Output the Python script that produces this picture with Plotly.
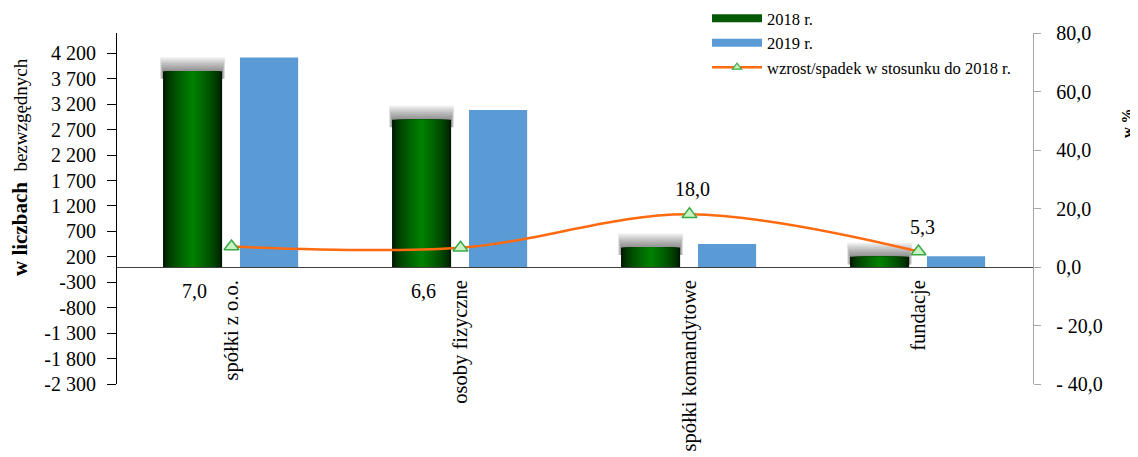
import plotly.graph_objects as go

# ---------------- data ----------------
categories = ["spółki z o.o.", "osoby fizyczne", "spółki komandytowe", "fundacje"]
values_2018 = [3850, 2895, 385, 200]
values_2019 = [4120, 3086, 454, 211]
growth_pct = [7.0, 6.6, 18.0, 5.3]
left_tick_values = [-2300, -1800, -1300, -800, -300, 200, 700, 1200, 1700, 2200, 2700, 3200, 3700, 4200]
right_tick_values = [-40, -20, 0, 20, 40, 60, 80]
series_names = ["2018 r.", "2019 r.", "wzrost/spadek w stosunku do 2018 r."]


def fmt_left(v):
    return f"{v:,}".replace(",", " ")


def fmt_right(v):
    s = f"{abs(v):.1f}".replace(".", ",")
    return ("- " + s) if v < 0 else s


left_tick_text = [fmt_left(v) for v in left_tick_values]
right_tick_text = [fmt_right(v) for v in right_tick_values]
label_text = [f"{v:.1f}".replace(".", ",") for v in growth_pct]

# ---------------- styling ----------------
FONT = "Liberation Serif, Times New Roman, serif"
OFF = 8                      # page (body) offset of the figure in the screenshot
W, H = 1138 - OFF, 457 - OFF
# target plot area in screenshot pixels: x 117..1033, y 33..384
ML, MT = 117 - OFF, 33 - OFF
MR, MB = W - (1033 - OFF), H - (384 - OFF)
PW, PH = W - ML - MR, H - MT - MB
Y_RANGE = [-2300, 4600]
Y2_RANGE = [-40, 80]
UNITS_PER_PX = (Y_RANGE[1] - Y_RANGE[0]) / PH
CAT_PX = PW / len(categories)


def px_x(px):
    return (px - OFF - ML) / PW


def px_y(py):
    return (H - MB - (py - OFF)) / PH


GREEN_OFFSET, GREEN_WIDTH = -0.299, 0.258
BLUE_OFFSET, BLUE_WIDTH = 0.037, 0.254
BLUE = "#5B9BD5"
ORANGE = "#FF6A10"

fig = go.Figure()

# soft shadow above the 2018 bars
for ext in [14, 12, 10, 8, 6, 4, 2]:
    extra_w = (ext / 14 * 3) / CAT_PX
    fig.add_trace(go.Bar(
        x=categories,
        y=[150 + ext * UNITS_PER_PX for _ in values_2018],
        base=[v - 150 for v in values_2018],
        offset=GREEN_OFFSET - extra_w, width=GREEN_WIDTH + 2 * extra_w,
        marker=dict(color="rgba(0,0,0,0.07)", line=dict(width=0)),
        showlegend=False, hoverinfo="skip",
    ))

# 2018 bars: nested centred layers -> horizontal cylinder-like gradient
N = 14
green_center = GREEN_OFFSET + GREEN_WIDTH / 2
for k in range(N):
    frac = 1 - k / N
    g = int(28 + (128 - 28) * (k / (N - 1)) ** 0.7)
    fig.add_trace(go.Bar(
        x=categories, y=values_2018,
        offset=green_center - GREEN_WIDTH * frac / 2, width=GREEN_WIDTH * frac,
        marker=dict(color=f"rgb(0,{g},0)", line=dict(width=0)),
        showlegend=False, name=series_names[0],
    ))

# 2019 bars
fig.add_trace(go.Bar(
    x=categories, y=values_2019, offset=BLUE_OFFSET, width=BLUE_WIDTH,
    marker=dict(color=BLUE, line=dict(width=0)), showlegend=False, name=series_names[1],
))

# growth line
fig.add_trace(go.Scatter(
    x=categories, y=growth_pct, yaxis="y2", mode="lines+markers",
    line=dict(color=ORANGE, width=2.5, shape="spline", smoothing=1.0),
    marker=dict(symbol="triangle-up", size=13, color="#C8F2C2", line=dict(color="#3DA846", width=1.5)),
    showlegend=False, name=series_names[2],
))

# legend proxies
fig.add_trace(go.Scatter(x=[None], y=[None], mode="lines", name=series_names[0], legendgroup="a",
                         line=dict(color="#045a04", width=8)))
fig.add_trace(go.Scatter(x=[None], y=[None], mode="lines", name=series_names[1], legendgroup="b",
                         line=dict(color=BLUE, width=8)))
fig.add_trace(go.Scatter(x=[None], y=[None], mode="lines+markers", name=series_names[2], legendgroup="c",
                         line=dict(color=ORANGE, width=2.5),
                         marker=dict(symbol="triangle-up", size=8, color="#C8F2C2",
                                     line=dict(color="#3DA846", width=1.2))))

label_shift = [(-37, -44), (-37, -43), (3, 25), (4, 25)]
annotations = []
for c, v, txt, (dx, dy) in zip(categories, growth_pct, label_text, label_shift):
    annotations.append(dict(x=c, y=v, xref="x", yref="y2", text=txt, showarrow=False,
                            xshift=dx, yshift=dy, font=dict(family=FONT, size=20, color="black")))

annotations.append(dict(
    x=px_x(20), y=px_y(167), xref="paper", yref="paper", textangle=-90, showarrow=False,
    text="<b>w liczbach</b>  <span style='font-size:19px'>bezwzgędnych</span>",
    font=dict(family=FONT, size=21, color="black"), xanchor="center", yanchor="middle"))
annotations.append(dict(
    x=px_x(1127), y=px_y(123), xref="paper", yref="paper", textangle=-90, showarrow=False,
    text="<b>w %</b>", font=dict(family=FONT, size=15, color="black"),
    xanchor="center", yanchor="middle"))

zero_pos = (0 - Y_RANGE[0]) / (Y_RANGE[1] - Y_RANGE[0])
AX_DARK = "#404040"
GRAY = "#A6A6A6"
TICKFONT = dict(family=FONT, size=20, color="black")

fig.update_layout(
    width=W, height=H, autosize=False,
    margin=dict(l=ML, r=MR, t=MT, b=MB, pad=0, autoexpand=False),
    paper_bgcolor="white", plot_bgcolor="white",
    barmode="overlay",
    font=dict(family=FONT, size=20, color="black"),
    showlegend=True,
    legend=dict(x=px_x(707), y=px_y(1), xanchor="left", yanchor="top",
                font=dict(family=FONT, size=16.5, color="black"),
                bgcolor="rgba(0,0,0,0)", itemwidth=50, tracegroupgap=0,
                traceorder="grouped"),
    annotations=annotations,
    xaxis=dict(type="category", categoryorder="array", categoryarray=categories,
               range=[-0.5, len(categories) - 0.5], domain=[0, 1],
               anchor="free", position=zero_pos,
               showline=True, linecolor=AX_DARK, linewidth=1,
               ticks="", tickangle=-90, ticklabelstandoff=4,
               tickfont=dict(family=FONT, size=20.5, color="black"),
               showgrid=False, zeroline=False, fixedrange=True),
    xaxis2=dict(overlaying="x", anchor="free", position=zero_pos,
                range=[-0.5, len(categories) - 0.5],
                tickvals=[0.5, 1.5, 2.5], ticks="outside", ticklen=7, tickcolor=AX_DARK,
                showticklabels=False, showline=False, showgrid=False, zeroline=False),
    xaxis3=dict(overlaying="x", anchor="free", position=zero_pos,
                range=[-0.5, len(categories) - 0.5],
                tickvals=[0.5, 1.5, 2.5], ticks="inside", ticklen=7, tickcolor=AX_DARK,
                showticklabels=False, showline=False, showgrid=False, zeroline=False),
    yaxis=dict(range=Y_RANGE, tickvals=left_tick_values, ticktext=left_tick_text,
               ticks="outside", ticklen=9, tickcolor="black", ticklabelstandoff=7,
               showline=True, linecolor="black", linewidth=1,
               showgrid=False, zeroline=False, tickfont=TICKFONT),
    yaxis3=dict(overlaying="y", anchor="x", side="left", range=Y_RANGE,
                tickvals=left_tick_values, ticks="inside", ticklen=8, tickcolor="black",
                showticklabels=False, showline=False, showgrid=False, zeroline=False),
    yaxis2=dict(overlaying="y", anchor="x", side="right", range=Y2_RANGE,
                tickvals=right_tick_values, ticktext=right_tick_text,
                ticks="outside", ticklen=7, tickcolor=GRAY, ticklabelstandoff=11,
                showline=True, linecolor=GRAY, linewidth=1.3,
                showgrid=False, zeroline=False, tickfont=TICKFONT),
    yaxis4=dict(overlaying="y", anchor="x", side="right", range=Y2_RANGE,
                tickvals=right_tick_values, ticks="inside", ticklen=10, tickcolor=GRAY,
                showticklabels=False, showline=False, showgrid=False, zeroline=False),
)

fig.write_html("out.html")
